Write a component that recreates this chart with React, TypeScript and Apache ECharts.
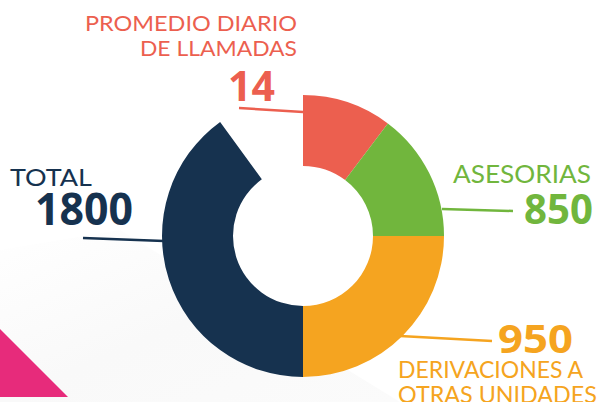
import React, { useEffect, useRef } from "react";
import * as echarts from "echarts";

// Slice names, their displayed values and the angular share each slice takes in the picture (degrees)
const sliceNames = ["PROMEDIO DIARIO DE LLAMADAS", "ASESORIAS", "DERIVACIONES A OTRAS UNIDADES", "TOTAL", ""];
const sliceValues = ["14", "850", "950", "1800", ""];
const sliceShares = [37, 53, 90, 144, 36];
const sliceColors = ["#EC5F4F", "#71B63D", "#F5A420", "#16324F", "transparent"];

const labelFont = "Lato, 'Open Sans', sans-serif";
const numFont = "'Noto Sans', Lato, sans-serif";

let measureCtx: CanvasRenderingContext2D | null = null;
function measure(text: string, font: string): number {
  if (!measureCtx) measureCtx = document.createElement("canvas").getContext("2d");
  if (!measureCtx) return 1;
  measureCtx.font = font;
  return measureCtx.measureText(text).width || 1;
}

export default function App() {
  const ref = useRef<HTMLDivElement>(null);
  useEffect(() => {
    if (!ref.current) return;
    const chart = echarts.init(ref.current, null, { renderer: "svg" });
    // anchor x, target width, cap-centre y, font size
    const txt = (text: string, x: number, w: number, y: number, color: string, size: number, bold: boolean, align: string) => {
      const font = `${bold ? "bold " : ""}${size}px ${bold ? numFont : labelFont}`;
      const s = w / measure(text, font);
      return {
        type: "text",
        z: 10,
        x,
        y,
        scaleX: s,
        style: {
          text,
          x: 0,
          y: 0,
          fill: color,
          font,
          textAlign: align,
          textVerticalAlign: "middle",
        },
      };
    };
    const ln = (x1: number, y1: number, x2: number, y2: number, color: string) => ({
      type: "line",
      z: 5,
      shape: { x1, y1, x2, y2 },
      style: { stroke: color, lineWidth: 2.5 },
    });
    chart.setOption({
      animation: false,
      backgroundColor: "#ffffff",
      graphic: [
        {
          type: "polygon",
          z: -10,
          shape: { points: [[0, 250], [120, 230], [400, 402], [0, 402]] },
          style: {
            fill: new echarts.graphic.LinearGradient(0, 0, 1, 1, [
              { offset: 0, color: "#ffffff" },
              { offset: 0.5, color: "#f9f9f9" },
              { offset: 1, color: "#fbfbfb" },
            ]),
          },
        },
        {
          type: "polygon",
          z: 1,
          shape: { points: [[0, 329], [68, 397], [0, 397]] },
          style: { fill: "#E72B7B" },
        },
        txt("PROMEDIO DIARIO", 297, 212, 22.5, sliceColors[0], 21, false, "right"),
        txt("DE LLAMADAS", 297, 157, 48, sliceColors[0], 20.5, false, "right"),
        txt(sliceValues[0], 275, 47, 85, sliceColors[0], 42, true, "right"),
        ln(239, 108, 303, 112, sliceColors[0]),
        txt("TOTAL", 10, 82, 176.5, sliceColors[3], 23.5, false, "left"),
        txt(sliceValues[3], 35, 98, 208, sliceColors[3], 44.5, true, "left"),
        ln(83, 238, 164, 241, sliceColors[3]),
        txt("ASESORIAS", 453, 138, 173, sliceColors[1], 24.5, false, "left"),
        txt(sliceValues[1], 524, 69, 208, sliceColors[1], 42, true, "left"),
        ln(442, 209, 513, 211, sliceColors[1]),
        txt(sliceValues[2], 498, 75, 337, sliceColors[2], 40, true, "left"),
        ln(400, 336, 492, 341, sliceColors[2]),
        txt("DERIVACIONES A", 398, 186, 368.5, sliceColors[2], 23.5, false, "left"),
        txt("OTRAS UNIDADES", 398, 199, 393.5, sliceColors[2], 23.5, false, "left"),
      ],
      series: [
        {
          type: "pie",
          center: [303, 236],
          radius: [70, 141],
          startAngle: 90,
          clockwise: true,
          silent: true,
          label: { show: false },
          labelLine: { show: false },
          z: 3,
          data: sliceShares.map((v, i) => ({
            name: sliceNames[i],
            value: v,
            itemStyle: { color: sliceColors[i], borderWidth: 0 },
          })),
        },
      ],
    });
    return () => chart.dispose();
  }, []);
  return <div ref={ref} style={{ position: "fixed", left: 0, top: 0, width: 600, height: 402 }} />;
}
